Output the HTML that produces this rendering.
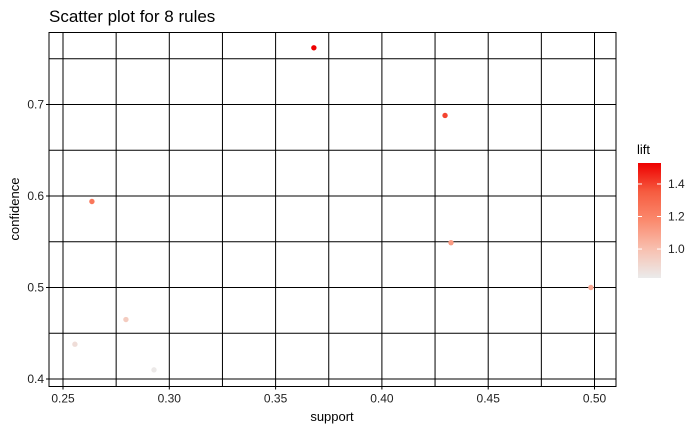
<!DOCTYPE html>
<html><head><meta charset="utf-8"><style>
body{margin:0;background:#fff;font-family:"Liberation Sans",Arial,sans-serif}
svg text{font-family:"Liberation Sans",Arial,sans-serif}
</style></head><body>
<svg id="chart" width="700" height="432" xmlns="http://www.w3.org/2000/svg">
<text x="49" y="22" font-size="17" fill="#000">Scatter plot for 8 rules</text>
<g id="grid"></g><g id="pts"></g><g id="axes"></g>
<text x="332" y="421" font-size="13" text-anchor="middle">support</text>
<text transform="translate(19,209) rotate(-90)" font-size="13" text-anchor="middle">confidence</text>
<defs><linearGradient id="lg" x1="0" y1="1" x2="0" y2="0">
<stop offset="0" stop-color="#EBEBEB"/><stop offset="0.25" stop-color="#F8C0B0"/><stop offset="0.5" stop-color="#FB8A6E"/><stop offset="0.75" stop-color="#F65C40"/><stop offset="1" stop-color="#EE0000"/></linearGradient></defs>
<g>
<text x="637" y="154" font-size="13">lift</text>
<rect x="638" y="163" width="23" height="115" fill="url(#lg)"/>
<g id="leg"></g>
</g>
</svg>
<script>
const support=[0.368,0.4297,0.2636,0.4325,0.4983,0.2796,0.2556,0.2928];
const confidence=[0.762,0.688,0.594,0.549,0.500,0.465,0.438,0.410];
const lift=[1.53,1.40,1.25,1.12,1.08,0.95,0.88,0.83];
const xTicks=[0.25,0.30,0.35,0.40,0.45,0.50];
const yTicks=[0.4,0.5,0.6,0.7];
const legTicks=[1.0,1.2,1.4];
const NS="http://www.w3.org/2000/svg";
const L=49,R=616,T=32.5,B=386.5;
const sx=v=>63+(v-0.25)/0.05*106.3;
const sy=v=>379-(v-0.4)/0.1*91.5;
const lmin=0.822,lmax=1.529;
const ly=v=>278-(v-lmin)/(lmax-lmin)*115;
const stops=[[235,235,235],[248,192,176],[251,138,110],[246,92,64],[238,0,0]];
function col(v){let t=Math.max(0,Math.min(1,(v-lmin)/(lmax-lmin)))*4;
const i=Math.min(3,Math.floor(t)),f=t-i,a=stops[i],b=stops[i+1];
return`rgb(${a.map((c,k)=>Math.round(c+(b[k]-c)*f)).join(',')})`;}
function mk(tag,at,parent){const e=document.createElementNS(NS,tag);for(const k in at)e.setAttribute(k,at[k]);parent.appendChild(e);return e;}
const g=document.getElementById('grid'),ax=document.getElementById('axes'),pg=document.getElementById('pts'),lg=document.getElementById('leg');
mk('rect',{x:L,y:T,width:R-L,height:B-T,fill:'none',stroke:'#000','stroke-width':1},g);
const xs=[];for(let i=0;i<xTicks.length;i++){xs.push(xTicks[i]);if(i<xTicks.length-1)xs.push((xTicks[i]+xTicks[i+1])/2);}
xs.forEach(v=>{const e=mk('line',{x1:sx(v),x2:sx(v),y1:T,y2:B,stroke:'#000','stroke-width':1},g);
});
const ys=[0.45,0.55,0.65,0.75,...yTicks];
ys.forEach(v=>{const e=mk('line',{x1:L,x2:R,y1:sy(v),y2:sy(v),stroke:'#000','stroke-width':1},g);
});
xTicks.forEach(v=>{mk('line',{x1:sx(v),x2:sx(v),y1:B,y2:B+3,stroke:'#000'},ax);
const t=mk('text',{x:sx(v),y:B+16,'font-size':12,'text-anchor':'middle',fill:'#222'},ax);t.textContent=v.toFixed(2);
});
yTicks.forEach(v=>{mk('line',{x1:L-3,x2:L,y1:sy(v),y2:sy(v),stroke:'#000'},ax);
const t=mk('text',{x:L-5,y:sy(v)+4,'font-size':12,'text-anchor':'end',fill:'#222'},ax);t.textContent=v.toFixed(1);
});
support.forEach((s,i)=>{const c=mk('circle',{cx:sx(s),cy:sy(confidence[i]),r:2.7,fill:col(lift[i])},pg);
});
legTicks.forEach(v=>{const y=ly(v);
mk('line',{x1:638,x2:642,y1:y,y2:y,stroke:'#fff'},lg);mk('line',{x1:657,x2:661,y1:y,y2:y,stroke:'#fff'},lg);
const t=mk('text',{x:668,y:y+4,'font-size':12,fill:'#222'},lg);t.textContent=v.toFixed(1);
});
</script>
</body></html>
